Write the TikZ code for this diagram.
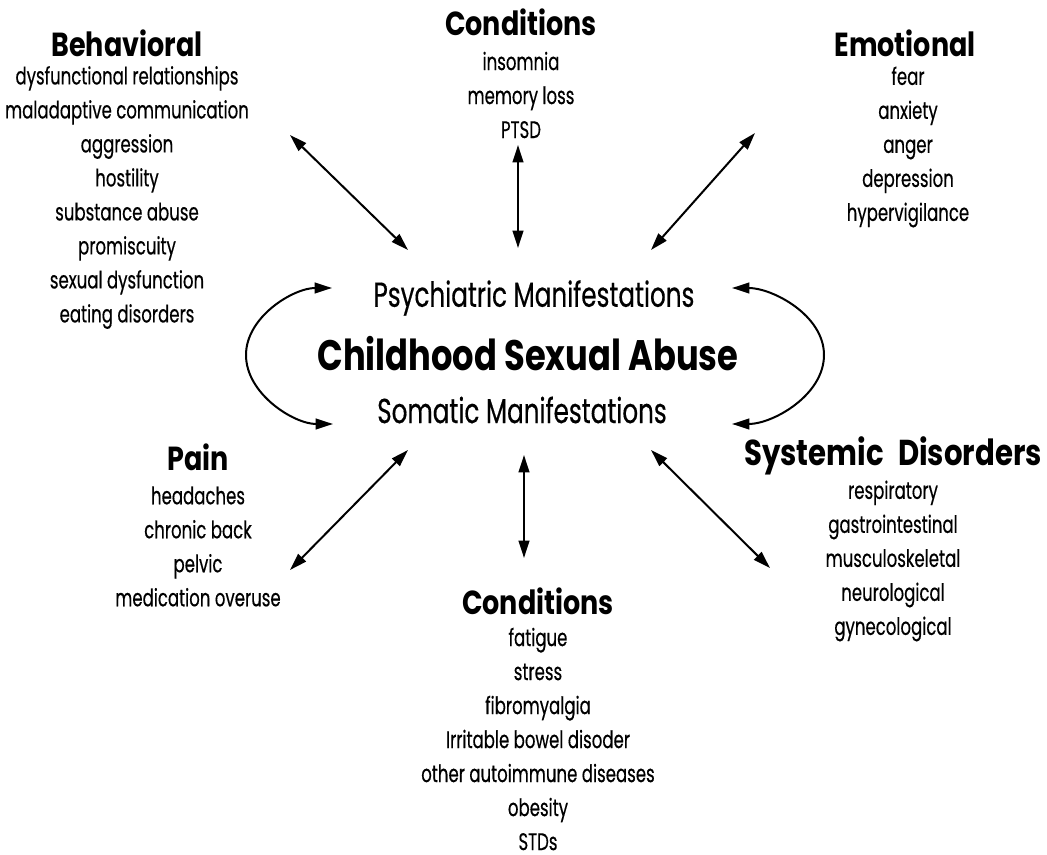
\documentclass[tikz,border=0pt]{standalone}
\usepackage{fontspec}
\usetikzlibrary{arrows.meta}
\newfontfamily\futI{Poppins}[FakeStretch=0.69,FakeBold=0.4]
\newfontfamily\futT{Poppins}[FakeStretch=0.81]
\newfontfamily\futS{Poppins}[FakeStretch=0.71,FakeBold=0.4]
\newfontfamily\futC{Poppins}[FakeStretch=0.79]
\tikzset{
  px/.style={x=0.75pt,y=-0.75pt},
  items/.style={align=center,inner sep=0pt,font=\futI\fontsize{18}{25.5}\selectfont},
  title/.style={align=center,inner sep=0pt,font=\futT\bfseries\fontsize{25}{28}\selectfont},
  bigtitle/.style={align=center,inner sep=0pt,font=\futT\bfseries\fontsize{27}{30}\selectfont},
  sub/.style={align=center,inner sep=0pt,font=\futS\fontsize{26}{30}\selectfont},
  core/.style={align=center,inner sep=0pt,font=\futC\bfseries\fontsize{32}{36}\selectfont},
  link/.style={line width=1.5pt,{Triangle[length=13pt,width=8pt]}-{Triangle[length=13pt,width=8pt]}}
}
\begin{document}
\begin{tikzpicture}[px]
\path[use as bounding box] (0,0) rectangle (1047,855);
% titles
\node[title] (tbeh) at (127,43) {Behavioral};
\node[title] (tcon1) at (521,22) {Conditions};
\node[title] (temo) at (905,43) {Emotional};
\node[title] (tpain) at (198,457) {Pain};
\node[title] (tcon2) at (538,601) {Conditions};
\node[bigtitle] (tsys) at (893,456) {Systemic\hspace{0.4em}Disorders};
% items
\node[items] (ibeh) at (127,197.5) {dysfunctional relationships\\maladaptive communication\\aggression\\hostility\\substance abuse\\promiscuity\\sexual dysfunction\\eating disorders};
\node[items] (icon1) at (521,95) {insomnia\\memory loss\\PTSD};
\node[items] (iemo) at (908,147) {fear\\anxiety\\anger\\depression\\hypervigilance};
\node[items] (ipain) at (198,546.5) {headaches\\chronic back\\pelvic\\medication overuse};
\node[items] (icon2) at (538,739) {fatigue\\stress\\fibromyalgia\\Irritable bowel disoder\\other autoimmune diseases\\obesity\\STDs};
\node[items] (isys) at (893,561) {respiratory\\gastrointestinal\\musculoskeletal\\neurological\\gynecological};
% centre
\node[sub] (psy) at (534,298) {Psychiatric Manifestations};
\node[core] (csa) at (528,354) {Childhood Sexual Abuse};
\node[sub] (som) at (522,410) {Somatic Manifestations};
% arrow ends
\coordinate (b1) at (290,135); \coordinate (b2) at (408,250);
\coordinate (c1) at (518,145); \coordinate (c2) at (518,248);
\coordinate (e1) at (755,133); \coordinate (e2) at (651,250);
\coordinate (p1) at (408,450); \coordinate (p2) at (290,570);
\coordinate (d1) at (524,455); \coordinate (d2) at (524,558);
\coordinate (s1) at (651,450); \coordinate (s2) at (770,568);
\draw[link] (b1) -- (b2);
\draw[link] (c1) -- (c2);
\draw[link] (e1) -- (e2);
\draw[link] (p1) -- (p2);
\draw[link] (d1) -- (d2);
\draw[link] (s1) -- (s2);
% loops
\coordinate (lt) at (332,288); \coordinate (lm) at (246,355); \coordinate (lb) at (333,424);
\coordinate (rt) at (732,288); \coordinate (rm) at (824,355); \coordinate (rb) at (732,424);
\draw[link] (lt) to[out=180,in=90,looseness=0.9] (lm) to[out=-90,in=180,looseness=0.9] (lb);
\draw[link] (rt) to[out=0,in=90,looseness=0.9] (rm) to[out=-90,in=0,looseness=0.9] (rb);
\end{tikzpicture}
\end{document}
